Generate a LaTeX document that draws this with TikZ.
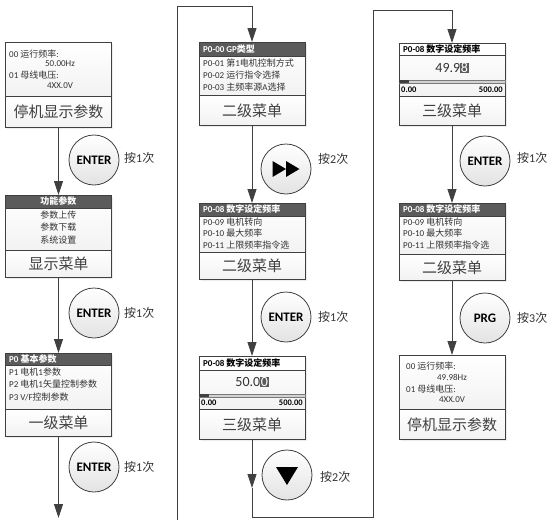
\documentclass[tikz,border=0pt]{standalone}
\usepackage{fontspec}
\setmainfont{Carlito}
\newfontfamily\cjk{Noto Sans CJK SC}
\newfontfamily\lat{Carlito}
\usetikzlibrary{arrows.meta,shadows}
\XeTeXinterchartokenstate=1
\newXeTeXintercharclass\CJKcls
\newcount\cjkc
\cjkc="4E00
\loop\XeTeXcharclass\cjkc=\CJKcls\ifnum\cjkc<"9FFF\advance\cjkc by 1\repeat
\XeTeXinterchartoks 0 \CJKcls = {\cjk}
\XeTeXinterchartoks 4095 \CJKcls = {\cjk}
\XeTeXinterchartoks \CJKcls 0 = {\lat}
\definecolor{ln}{HTML}{404040}
\definecolor{hdr}{HTML}{5B5B5B}
\definecolor{tx}{HTML}{333333}
\newcommand\hlt[1]{{\setlength{\fboxsep}{0.6pt}\colorbox{hdr}{\textcolor{white}{#1}}}}
\begin{document}
\begin{tikzpicture}[x=1pt,y=-1pt,
  panel/.style={draw=ln, line width=0.8pt, top color=white, bottom color=gray!10,
    drop shadow={opacity=0.15, shadow xshift=1.5pt, shadow yshift=-1.5pt},
    minimum width=106pt, inner sep=0pt, anchor=north},
  lbl/.style={panel, text=ln, font=\fontsize{15}{15}\selectfont},
  hbar/.style={draw=ln, line width=0.8pt, fill=hdr, minimum width=106pt, inner sep=0pt, anchor=north},
  wbar/.style={draw=ln, line width=0.6pt, fill=white, minimum width=106pt, inner sep=0pt, anchor=north},
  txt/.style={text=tx, inner sep=0pt, font=\fontsize{9}{10}\selectfont},
  htxt/.style={text=white, inner sep=0pt, font=\bfseries\fontsize{9}{10}\selectfont},
  btxt/.style={text=black, inner sep=0pt, font=\bfseries\fontsize{9}{10}\selectfont},
  val/.style={text=tx, inner sep=0pt, font=\lat\fontsize{14}{14}\selectfont},
  scl/.style={text=black, inner sep=0pt, font=\bfseries\fontsize{8.5}{9}\selectfont},
  btn/.style={circle, draw=ln, line width=0.8pt, minimum size=50pt, inner sep=0pt,
    top color=white, bottom color=gray!22, font=\lat\bfseries\fontsize{13}{13}\selectfont},
  press/.style={anchor=west, inner sep=0pt, text=tx, font=\fontsize{12}{14}\selectfont},
  arr/.style={draw=ln, line width=0.8pt, -{Triangle[length=14pt,width=9pt]}}
]
\useasboundingbox (0,0) rectangle (550,520);

% ---------- column 1 ----------
\node[panel, minimum height=54pt] (b1t) at (58.5,42) {};
\node[lbl, minimum height=31pt] (b1l) at (58.5,96) {停机显示参数};
\node[txt, anchor=west] (t11) at (9,54) {00 运行频率:};
\node[txt] (t12) at (60,64) {50.00Hz};
\node[txt, anchor=west] (t13) at (9,75) {01 母线电压:};
\node[txt] (t14) at (60,86) {4XX.0V};

\node[panel, minimum height=55pt] (b2t) at (58.5,195) {};
\node[hbar, minimum height=13pt] (b2h) at (58.5,195) {};
\node[htxt] (h2) at (58.5,201.5) {功能参数};
\node[txt] (t21) at (58.5,215) {参数上传};
\node[txt] (t22) at (58.5,227.5) {参数下载};
\node[txt] (t23) at (58.5,240) {系统设置};
\node[lbl, minimum height=27pt] (b2l) at (58.5,250) {显示菜单};

\node[panel, minimum height=56pt] (b3t) at (58.5,353) {};
\node[hbar, minimum height=12pt] (b3h) at (58.5,353) {};
\node[htxt, anchor=west] (h3) at (9,359) {P0 基本参数};
\node[txt, anchor=west] (t31) at (9,372) {P1 电机1参数};
\node[txt, anchor=west] (t32) at (9,384.5) {P2 电机1矢量控制参数};
\node[txt, anchor=west] (t33) at (9,397) {P3 V/F控制参数};
\node[lbl, minimum height=27pt] (b3l) at (58.5,409) {一级菜单};

% ---------- column 2 ----------
\node[panel, minimum height=53pt] (bAt) at (252,42) {};
\node[hbar, minimum height=14pt] (bAh) at (252,42) {};
\node[htxt, anchor=west] (hA) at (203,49) {P0-00 GP类型};
\node[txt, anchor=west] (tA1) at (203,63) {P0-01 第1电机控制方式};
\node[txt, anchor=west] (tA2) at (203,75) {P0-02 运行指令选择};
\node[txt, anchor=west] (tA3) at (203,87) {P0-03 主频率源A选择};
\node[lbl, minimum height=30pt] (bAl) at (252,95) {二级菜单};

\node[panel, minimum height=49pt] (bBt) at (252,203) {};
\node[hbar, minimum height=13pt] (bBh) at (252,203) {};
\node[htxt, anchor=west] (hB) at (203,209.5) {P0-08 数字设定频率};
\node[txt, anchor=west] (tB1) at (203,222) {P0-09 电机转向};
\node[txt, anchor=west] (tB2) at (203,233.5) {P0-10 最大频率};
\node[txt, anchor=west] (tB3) at (203,245) {P0-11 上限频率指令选};
\node[lbl, minimum height=27pt] (bBl) at (252,252) {二级菜单};

\node[panel, minimum height=53pt] (bCt) at (252,356) {};
\node[wbar, minimum height=14pt] (bCh) at (252,356) {};
\node[btxt, anchor=west] (hC) at (203,363) {P0-08 数字设定频率};
\node[val] (vC) at (252,382) {50.0\hlt{0}};
\node[draw=ln!70, fill=gray!35, line width=0.5pt, minimum width=106pt, minimum height=3pt, inner sep=0pt, anchor=north] (rC) at (252,394) {};
\node[fill=ln, minimum width=10pt, minimum height=3pt, inner sep=0pt, anchor=north west] (rCk) at (199,394) {};
\node[scl, anchor=west] (sC1) at (201,403) {0.00};
\node[scl, anchor=east] (sC2) at (303,403) {500.00};
\node[lbl, minimum height=30pt] (bCl) at (252,409) {三级菜单};

% ---------- column 3 ----------
\node[panel, minimum height=53pt] (bDt) at (452,43) {};
\node[wbar, minimum height=12pt] (bDh) at (452,43) {};
\node[btxt, anchor=west] (hD) at (403,49) {P0-08 数字设定频率};
\node[val] (vD) at (452,68) {49.9\hlt{8}};
\node[draw=ln!70, fill=gray!35, line width=0.5pt, minimum width=106pt, minimum height=3pt, inner sep=0pt, anchor=north] (rD) at (452,80) {};
\node[fill=ln, minimum width=10pt, minimum height=3pt, inner sep=0pt, anchor=north west] (rDk) at (399,80) {};
\node[scl, anchor=west] (sD1) at (401,90) {0.00};
\node[scl, anchor=east] (sD2) at (503,90) {500.00};
\node[lbl, minimum height=29pt] (bDl) at (452,96) {三级菜单};

\node[panel, minimum height=51pt] (bEt) at (452,203) {};
\node[hbar, minimum height=13pt] (bEh) at (452,203) {};
\node[htxt, anchor=west] (hE) at (403,209.5) {P0-08 数字设定频率};
\node[txt, anchor=west] (tE1) at (403,222) {P0-09 电机转向};
\node[txt, anchor=west] (tE2) at (403,233.5) {P0-10 最大频率};
\node[txt, anchor=west] (tE3) at (403,245) {P0-11 上限频率指令选};
\node[lbl, minimum height=26pt] (bEl) at (452,254) {二级菜单};

\node[panel, minimum height=54pt] (bFt) at (452,355) {};
\node[txt, anchor=west] (tF1) at (406,366) {00 运行频率:};
\node[txt] (tF2) at (452,377) {49.98Hz};
\node[txt, anchor=west] (tF3) at (406,389) {01 母线电压:};
\node[txt] (tF4) at (452,400) {4XX.0V};
\node[lbl, minimum height=30pt] (bFl) at (452,409) {停机显示参数};

% ---------- connectors ----------
\draw[arr] (b1l.south) -- (b2t.north);
\draw[arr] (b2l.south) -- (b3t.north);
\coordinate (e1) at (58.5,518);
\draw[arr] (b3l.south) -- (e1);

\coordinate (s2a) at (177,520);
\coordinate (s2b) at (177,6);
\coordinate (s2c) at (252,6);
\draw[arr] (s2a) -- (s2b) -- (s2c) -- (bAt.north);
\draw[arr] (bAl.south) -- (bBt.north);
\draw[arr] (bBl.south) -- (bCt.north);
\coordinate (m2) at (252,488);
\draw[arr] (bCl.south) -- (m2);
\coordinate (t2a) at (252,517);
\coordinate (t2b) at (373,517);
\coordinate (t2c) at (373,10);
\coordinate (t2d) at (452,10);
\draw[arr] (m2) -- (t2a) -- (t2b) -- (t2c) -- (t2d) -- (bDt.north);
\draw[arr] (bDl.south) -- (bEt.north);
\draw[arr] (bEl.south) -- (bFt.north);

% ---------- buttons ----------
\node[btn] (c1) at (94,160) {ENTER};
\node[press] (p1) at (124,158) {按1次};
\node[btn] (c2) at (94,313) {ENTER};
\node[press] (p2) at (124,313) {按1次};
\node[btn] (c3) at (94,467) {ENTER};
\node[press] (p3) at (124,467) {按1次};

\node[btn] (f1) at (286,169) {};
\fill[black] (f1.center) ++(-13.5,-8) -- ++(13.5,8) -- ++(-13.5,8) -- cycle;
\fill[black] (f1.center) ++(0,-8) -- ++(13.5,8) -- ++(-13.5,8) -- cycle;
\node[press] (p4) at (318,159) {按2次};
\node[btn] (c4) at (286,317) {ENTER};
\node[press] (p5) at (318,317) {按1次};
\node[btn] (d1) at (287,475) {};
\fill[black] (d1.center) ++(-11,-8) -- ++(22,0) -- ++(-11,18) -- cycle;
\node[press] (p6) at (320,477) {按2次};

\node[btn] (c5) at (485,161) {ENTER};
\node[press] (p7) at (517,158) {按1次};
\node[btn] (g1) at (485,318) {PRG};
\node[press] (p8) at (517,318) {按3次};
\end{tikzpicture}
\end{document}
